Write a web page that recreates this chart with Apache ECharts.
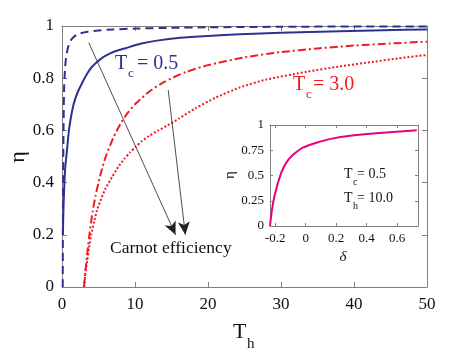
<!doctype html>
<html>
<head>
<meta charset="utf-8">
<title>efficiency vs Th</title>
<style>
  html, body { margin: 0; padding: 0; background: #fff; }
  #main { width: 472px; height: 354px; }
</style>
</head>
<body>
<div id="main"></div>
<script src="https://cdn.jsdelivr.net/npm/echarts@6/dist/echarts.min.js"></script>
<script>
// values
var thDashed = [0.1, 0.12, 0.15, 0.2, 0.25, 0.3, 0.4, 0.5, 0.65, 0.8, 1.0, 1.2, 1.6, 2.0, 2.5, 3.5, 5, 7, 10, 15, 20, 30, 40, 50];
var etaDashed = [0, 0.2, 0.4, 0.58, 0.7, 0.77, 0.83, 0.865, 0.895, 0.915, 0.933, 0.945, 0.958, 0.966, 0.972, 0.978, 0.983, 0.987, 0.99, 0.993, 0.995, 0.997, 0.998, 0.998];

var thSolid = [0.12, 0.2, 0.3, 0.45, 0.6, 0.75, 0.95, 1.16, 1.5, 1.8, 2.2, 2.5, 3, 3.5, 4, 4.6, 5.5, 6.6, 7.5, 8.7, 10.75, 13, 16.2, 20, 24.4, 30, 38, 44, 50];
var etaSolid = [0.2, 0.3, 0.38, 0.46, 0.5, 0.545, 0.6, 0.64, 0.69, 0.72, 0.75, 0.767, 0.795, 0.82, 0.84, 0.857, 0.878, 0.895, 0.905, 0.915, 0.932, 0.944, 0.955, 0.962, 0.968, 0.974, 0.98, 0.984, 0.987];

var thDashDot = [3, 3.2, 3.5, 3.8, 4.2, 4.6, 5, 5.5, 6, 7, 8, 9, 10, 12, 14, 17, 20, 25, 30, 35, 40, 45, 50];
var etaDashDot = [0, 0.06, 0.14, 0.21, 0.29, 0.35, 0.4, 0.455, 0.5, 0.57, 0.625, 0.667, 0.7, 0.75, 0.786, 0.824, 0.85, 0.88, 0.9, 0.914, 0.925, 0.933, 0.94];

var thDotted = [3.05, 3.2, 3.45, 3.7, 4, 4.4, 4.8, 5.4, 6, 6.9, 7.7, 8.5, 9.3, 10.1, 11, 12, 13.2, 14.5, 16, 18.3, 21, 24.4, 28, 33.6, 38, 42.7, 46, 50];
var etaDotted = [0, 0.05, 0.1, 0.15, 0.2, 0.25, 0.295, 0.34, 0.38, 0.423, 0.46, 0.49, 0.515, 0.537, 0.56, 0.58, 0.6, 0.62, 0.645, 0.685, 0.725, 0.765, 0.795, 0.825, 0.845, 0.863, 0.876, 0.889];

var deltaInset = [-0.235, -0.23, -0.225, -0.22, -0.213, -0.205, -0.195, -0.18, -0.16, -0.136, -0.11, -0.08, -0.05, -0.02, 0.02, 0.07, 0.13, 0.19, 0.28, 0.37, 0.48, 0.59, 0.66, 0.73];
var etaInset = [0, 0.07, 0.13, 0.18, 0.24, 0.3, 0.36, 0.44, 0.53, 0.606, 0.665, 0.71, 0.745, 0.775, 0.8, 0.825, 0.85, 0.87, 0.89, 0.905, 0.92, 0.932, 0.94, 0.947];

var insetXTicks = [-0.2, 0, 0.2, 0.4, 0.6];

// arrows: [start, tip] in data units
var arrows = [
    [[3.67, 0.936], [15.55, 0.2]],
    [[14.55, 0.755], [16.9, 0.2]]
];

function pairs(xs, ys) {
    return xs.map(function (x, i) { return [x, ys[i]]; });
}

var BLUE = '#2e3192', RED = '#ee1c25', MAG = '#e6007e';
var FONT = '"Liberation Serif", "DejaVu Serif", serif';
var AX = '#808080';

function frameAxis(extra) {
    var base = {
        axisLine: { show: true, onZero: false, lineStyle: { color: AX, width: 1 } },
        axisTick: { show: true, inside: true, length: 5, lineStyle: { color: AX } },
        splitLine: { show: false },
        axisLabel: { show: false }
    };
    return Object.assign(base, extra);
}

var chart = echarts.init(document.getElementById('main'), null, { devicePixelRatio: 1 });

chart.setOption({
    backgroundColor: '#fff',
    animation: false,
    grid: [
        { left: 62, top: 26, width: 365, height: 261 },
        { left: 270, top: 125, width: 148, height: 101, backgroundColor: '#fff', show: true, borderWidth: 0 }
    ],
    xAxis: [
        frameAxis({ gridIndex: 0, type: 'value', min: 0, max: 50, interval: 10,
            axisLabel: { show: true, color: '#111', fontFamily: FONT, fontSize: 17, margin: 9 } }),
        frameAxis({ gridIndex: 0, type: 'value', min: 0, max: 50, interval: 10, position: 'top' }),
        frameAxis({ gridIndex: 1, type: 'value', min: -0.235, max: 0.738,
            axisTick: { show: true, inside: true, length: 3, lineStyle: { color: AX }, customValues: insetXTicks },
            axisLabel: { show: true, color: '#111', fontFamily: FONT, fontSize: 13, margin: 6,
                customValues: insetXTicks, formatter: function (v) { return String(Math.round(v * 10) / 10); } } }),
        frameAxis({ gridIndex: 1, type: 'value', min: -0.235, max: 0.738, position: 'top',
            axisTick: { show: true, inside: true, length: 3, lineStyle: { color: AX }, customValues: insetXTicks } })
    ],
    yAxis: [
        frameAxis({ gridIndex: 0, type: 'value', min: 0, max: 1, interval: 0.2,
            axisLabel: { show: true, color: '#111', fontFamily: FONT, fontSize: 17, margin: 8 } }),
        frameAxis({ gridIndex: 0, type: 'value', min: 0, max: 1, interval: 0.2, position: 'right' }),
        frameAxis({ gridIndex: 1, type: 'value', min: 0, max: 1, interval: 0.25,
            axisTick: { show: true, inside: true, length: 3, lineStyle: { color: AX } },
            axisLabel: { show: true, color: '#111', fontFamily: FONT, fontSize: 13, margin: 6 } }),
        frameAxis({ gridIndex: 1, type: 'value', min: 0, max: 1, interval: 0.25, position: 'right',
            axisTick: { show: true, inside: true, length: 3, lineStyle: { color: AX } } })
    ],
    series: [
        {
            type: 'line', xAxisIndex: 0, yAxisIndex: 0, data: pairs(thDashed, etaDashed),
            showSymbol: false, smooth: 0.2,
            lineStyle: { color: BLUE, width: 2, type: [8, 5] }
        },
        {
            type: 'line', xAxisIndex: 0, yAxisIndex: 0, data: pairs(thSolid, etaSolid),
            showSymbol: false, smooth: 0.2,
            lineStyle: { color: BLUE, width: 2 }
        },
        {
            type: 'line', xAxisIndex: 0, yAxisIndex: 0, data: pairs(thDashDot, etaDashDot),
            showSymbol: false, smooth: 0.2,
            lineStyle: { color: RED, width: 2, type: [8, 3, 2, 3] }
        },
        {
            type: 'line', xAxisIndex: 0, yAxisIndex: 0, data: pairs(thDotted, etaDotted),
            showSymbol: false, smooth: 0.2,
            lineStyle: { color: RED, width: 2, type: [2, 2] },
            markLine: {
                silent: true, animation: false,
                symbol: ['none', 'arrow'], symbolSize: [9, 13],
                label: { show: false },
                lineStyle: { color: '#222', width: 0.8, type: 'solid' },
                data: arrows.map(function (a) {
                    return [{ coord: a[0] }, { coord: a[1] }];
                })
            }
        },
        {
            type: 'line', xAxisIndex: 2, yAxisIndex: 2, data: pairs(deltaInset, etaInset),
            showSymbol: false, smooth: 0.2,
            lineStyle: { color: MAG, width: 2 }
        }
    ],
    graphic: [
        // main axis names
        { type: 'text', left: 233, top: 321, style: { text: 'T', font: '22px ' + FONT, fill: '#111' } },
        { type: 'text', left: 247, top: 337, style: { text: 'h', font: '15px ' + FONT, fill: '#111' } },
        { type: 'text', x: 18, y: 157, rotation: Math.PI / 2,
          style: { text: 'η', font: '22px ' + FONT, fill: '#111', align: 'center', verticalAlign: 'middle' } },
        // inset axis names
        { type: 'text', x: 230, y: 175, rotation: Math.PI / 2,
          style: { text: 'η', font: '15px ' + FONT, fill: '#111', align: 'center', verticalAlign: 'middle' } },
        { type: 'text', x: 343, y: 257,
          style: { text: 'δ', font: 'italic 15px ' + FONT, fill: '#111', align: 'center', verticalAlign: 'middle' } },
        // Tc labels
        { type: 'text', left: 115, top: 54, style: { text: 'T', font: '20px ' + FONT, fill: BLUE } },
        { type: 'text', left: 128, top: 67, style: { text: 'c', font: '13px ' + FONT, fill: BLUE } },
        { type: 'text', left: 137, top: 54, style: { text: '= 0.5', font: '20px ' + FONT, fill: BLUE } },
        { type: 'text', left: 293, top: 75, style: { text: 'T', font: '20px ' + FONT, fill: RED } },
        { type: 'text', left: 306, top: 88, style: { text: 'c', font: '13px ' + FONT, fill: RED } },
        { type: 'text', left: 313, top: 75, style: { text: '= 3.0', font: '20px ' + FONT, fill: RED } },
        // Carnot label
        { type: 'text', left: 110, top: 239, style: { text: 'Carnot efficiency', font: '17.5px ' + FONT, fill: '#111' } },
        // inset labels
        { type: 'text', left: 344, top: 167, style: { text: 'T', font: '14px ' + FONT, fill: '#111' } },
        { type: 'text', left: 353, top: 177, style: { text: 'c', font: '10px ' + FONT, fill: '#111' } },
        { type: 'text', left: 357, top: 167, style: { text: '= 0.5', font: '14px ' + FONT, fill: '#111' } },
        { type: 'text', left: 344, top: 191, style: { text: 'T', font: '14px ' + FONT, fill: '#111' } },
        { type: 'text', left: 353, top: 201, style: { text: 'h', font: '10px ' + FONT, fill: '#111' } },
        { type: 'text', left: 357, top: 191, style: { text: '= 10.0', font: '14px ' + FONT, fill: '#111' } }
    ]
});

window.onresize = chart.resize;
</script>
</body>
</html>
